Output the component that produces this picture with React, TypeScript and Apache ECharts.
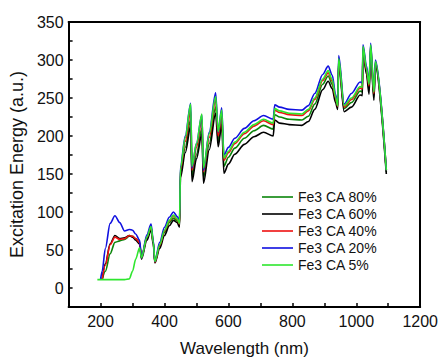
import React, { useEffect, useRef } from "react";
import * as echarts from "echarts";

const wavelengths = [190, 200, 205, 215, 230, 245, 260, 275, 290, 300, 310, 322, 328, 345, 358, 365, 370, 385, 400, 415, 428, 440, 447, 450, 465, 482, 486, 500, 517, 522, 540, 560, 568, 579, 586, 600, 620, 650, 680, 710, 740, 745, 760, 790, 830, 850, 870, 895, 912, 925, 935, 942, 945, 962, 985, 1012, 1019, 1021, 1032, 1040, 1045, 1055, 1060, 1094];

const ca80 = [null, null, 11, 22, 45, 60, 62, 64, 68, 68, 65, 60, 40, 66, 79, 59, 34, 55, 73, 86, 92, 88, 82, 150, 185, 222, 148, 176, 210, 145, 190, 238, 193, 222, 160, 172, 184, 197, 207, 214, 209, 228, 225, 222, 221, 226, 242, 268, 279, 268, 248, 238, 298, 236, 244, 259, 258, 314, 284, 260, 315, 252, 295, 153];
const ca60 = [null, null, 11, 32, 58, 69, 65, 66, 69, 67, 63, 58, 38, 63, 76, 57, 33, 52, 69, 82, 89, 86, 80, 145, 178, 213, 140, 170, 203, 138, 182, 230, 186, 215, 151, 163, 176, 189, 199, 205, 200, 221, 217, 215, 214, 219, 235, 261, 272, 262, 244, 235, 295, 232, 238, 254, 253, 312, 281, 255, 312, 247, 292, 150];
const ca40 = [null, null, 11, 30, 57, 67, 64, 65, 69, 68, 65, 60, 40, 67, 80, 60, 34, 56, 75, 88, 95, 90, 84, 155, 193, 233, 155, 185, 222, 153, 198, 248, 200, 228, 168, 178, 190, 203, 213, 220, 215, 234, 231, 228, 227, 233, 248, 273, 283, 272, 250, 239, 300, 238, 248, 263, 262, 316, 287, 266, 318, 256, 297, 155];
const ca20 = [null, 11, 22, 52, 85, 95, 86, 75, 77, 76, 71, 63, 40, 70, 84, 62, 35, 60, 80, 93, 100, 94, 88, 160, 200, 243, 158, 190, 228, 155, 205, 257, 205, 237, 175, 185, 197, 210, 220, 227, 222, 241, 238, 235, 234, 240, 256, 281, 292, 280, 255, 242, 306, 242, 256, 271, 270, 320, 292, 270, 322, 260, 300, 155];
const ca5 = [11, 11, 11, 11, 11, 11, 11, 11, 12, 22, 38, 53, 40, 67, 81, 60, 35, 57, 76, 89, 96, 91, 85, 158, 198, 242, 160, 190, 229, 158, 203, 252, 206, 234, 171, 180, 192, 205, 215, 222, 217, 236, 233, 230, 229, 235, 250, 275, 286, 274, 252, 240, 302, 240, 250, 265, 264, 318, 289, 268, 320, 258, 298, 155];

const seriesNames = ["Fe3 CA 80%", "Fe3 CA 60%", "Fe3 CA 40%", "Fe3 CA 20%", "Fe3 CA 5%"];
const seriesValues = [ca80, ca60, ca40, ca20, ca5];
const seriesColors = ["#0a850a", "#000000", "#ee1111", "#1010e0", "#2ee62e"];

const xTickLabels = [200, 400, 600, 800, 1000, 1200];
const yTickLabels = [0, 50, 100, 150, 200, 250, 300, 350];

const FONT = "Liberation Sans, Arial, sans-serif";

export default function App() {
  const ref = useRef<HTMLDivElement>(null);
  useEffect(() => {
    if (!ref.current) return;
    const chart = echarts.init(ref.current, undefined, { renderer: "svg" });
    const series = seriesNames.map((name, k) => ({
      name,
      type: "line",
      xAxisIndex: 0,
      yAxisIndex: 0,
      data: wavelengths.map((w, i) => [w, seriesValues[k][i]]),
      symbol: "none",
      showSymbol: false,
      connectNulls: false,
      smooth: 0.3,
      smoothMonotone: "x",
      lineStyle: { color: seriesColors[k], width: 1.6 },
      itemStyle: { color: seriesColors[k] },
      z: 2 + k,
    }));
    chart.setOption({
      animation: false,
      backgroundColor: "#ffffff",
      textStyle: { fontFamily: FONT },
      grid: { left: 67, right: 19, top: 22, bottom: 50, containLabel: false },
      legend: {
        orient: "vertical",
        left: 262,
        top: 190,
        icon: "rect",
        itemWidth: 31,
        itemHeight: 1.6,
        itemGap: 3,
        textStyle: { fontSize: 14, color: "#111", fontFamily: FONT, lineHeight: 14 },
        data: seriesNames,
        padding: 0,
      },
      xAxis: [
        {
          type: "value",
          min: 100,
          max: 1200,
          interval: 100,
          name: "Wavelength (nm)",
          nameLocation: "middle",
          nameGap: 33,
          nameTextStyle: { fontSize: 17, color: "#111", fontFamily: FONT },
          axisLine: { show: true, onZero: false, lineStyle: { color: "#000", width: 2 } },
          axisTick: { show: true, inside: true, length: 4, lineStyle: { color: "#000", width: 1.5 } },
          axisLabel: {
            fontSize: 16,
            color: "#111",
            margin: 6,
            fontFamily: FONT,
            formatter: (v: number) => (xTickLabels.includes(v) ? String(v) : ""),
          },
          splitLine: { show: false },
        },
        {
          type: "value",
          position: "top",
          min: 100,
          max: 1200,
          axisLine: { show: true, onZero: false, lineStyle: { color: "#000", width: 2 } },
          axisTick: { show: false },
          axisLabel: { show: false },
          splitLine: { show: false },
        },
      ],
      yAxis: [
        {
          type: "value",
          min: -25,
          max: 350,
          interval: 25,
          name: "Excitation Energy (a.u.)",
          nameLocation: "middle",
          nameGap: 39,
          nameTextStyle: { fontSize: 18, color: "#111", fontFamily: FONT },
          axisLine: { show: true, onZero: false, lineStyle: { color: "#000", width: 2 } },
          axisTick: { show: true, inside: true, length: 4, lineStyle: { color: "#000", width: 1.5 } },
          axisLabel: {
            fontSize: 16,
            color: "#111",
            margin: 5,
            fontFamily: FONT,
            formatter: (v: number) => (yTickLabels.includes(v) ? String(v) : ""),
          },
          splitLine: { show: false },
        },
        {
          type: "value",
          position: "right",
          min: -25,
          max: 350,
          axisLine: { show: true, onZero: false, lineStyle: { color: "#000", width: 2 } },
          axisTick: { show: false },
          axisLabel: { show: false },
          splitLine: { show: false },
        },
      ],
      series,
    });
    return () => chart.dispose();
  }, []);
  return (
    <div
      ref={ref}
      style={{ position: "fixed", left: 0, top: 0, width: 441, height: 362, background: "#fff" }}
    />
  );
}
